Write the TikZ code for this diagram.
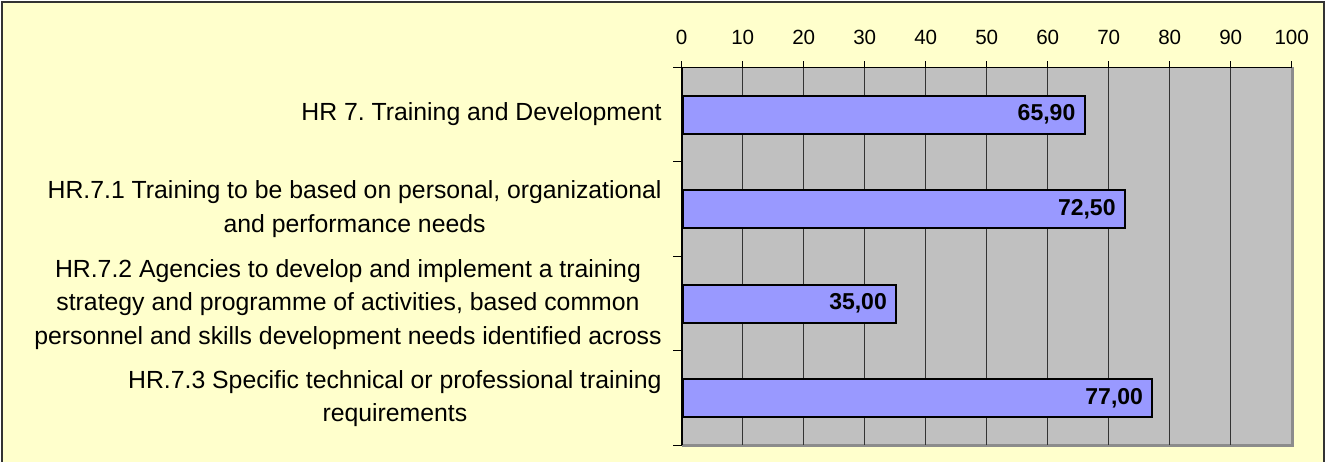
\documentclass[tikz,border=0pt]{standalone}
\usepackage{fontspec}
\setmainfont{Liberation Sans}
\usetikzlibrary{positioning}
\definecolor{chartbg}{HTML}{FFFFCC}
\definecolor{plotbg}{HTML}{C0C0C0}
\definecolor{barfill}{HTML}{9999FF}
\frenchspacing

\begin{document}
\begin{tikzpicture}[x=0.5pt,y=-0.5pt,
  bar/.style={draw=black,line width=1pt,fill=barfill,minimum height=19pt,inner sep=0pt,anchor=west},
  value/.style={font=\bfseries\fontsize{11.5}{13}\selectfont,inner sep=2pt},
  label node/.style={font=\fontsize{12.4}{16.6}\selectfont,align=center,anchor=east,inner sep=0pt},
  tick node/.style={font=\fontsize{10.3}{12}\selectfont,inner sep=0pt}]

  \useasboundingbox (0,0) rectangle (1328,461);
  \fill[white] (0,0) rectangle (1328,461);
  \draw[fill=chartbg,draw=black!80,line width=1pt] (2,2) rectangle (1324,470);

  % plot area
  \fill[plotbg] (681.7,67.3) rectangle (1292.3,445.3);
  \draw[black!45,line width=1.5pt] (1292.3,67.3) -- (1292.3,445.3) -- (681.7,445.3);
  \foreach \v in {10,20,...,90}
    \draw[black!80,line width=0.6pt] (681.7+\v*6.1,67.3) -- (681.7+\v*6.1,445.3);
  \foreach \v in {0,10,...,100}{
    \draw[line width=0.6pt] (681.7+\v*6.1,61) -- (681.7+\v*6.1,67.3);
    \node[tick node] (t\v) at (681.7+\v*6.1,37) {\v};
  }
  \foreach \y in {67.3,161.8,256.3,350.8,445.3}
    \draw[line width=0.6pt] (673.3,\y) -- (681.7,\y);
  \draw[line width=0.8pt] (673.3,67.3) -- (1292.3,67.3);
  \draw[line width=1pt] (681.7,67.3) -- (681.7,445.3);

  % bars
  \node[bar,minimum width=65.9*3.05pt] (bar1) at (681.7,114.5) {};
  \node[bar,minimum width=72.5*3.05pt] (bar2) at (681.7,209) {};
  \node[bar,minimum width=35*3.05pt] (bar3) at (681.7,303.5) {};
  \node[bar,minimum width=77*3.05pt] (bar4) at (681.7,398) {};
  \node[value,left=3pt of bar1.east] (val1) {65,90};
  \node[value,left=3pt of bar2.east] (val2) {72,50};
  \node[value,left=3pt of bar3.east] (val3) {35,00};
  \node[value,left=3pt of bar4.east] (val4) {77,00};

  % category labels
  \node[label node] (lab1) at (662,114.5) {HR 7. Training and Development};
  \node[label node] (lab2) at (662,209) {HR.7.1 Training to be based on personal, organizational\\and performance needs};
  \node[label node] (lab3) at (662,304.5) {HR.7.2 Agencies to develop and implement a training\\strategy and programme of activities, based common\\personnel and skills development needs identified across};
  \node[label node] (lab4) at (662,398.5) {HR.7.3 Specific technical or professional training\\requirements};
\end{tikzpicture}
\end{document}
